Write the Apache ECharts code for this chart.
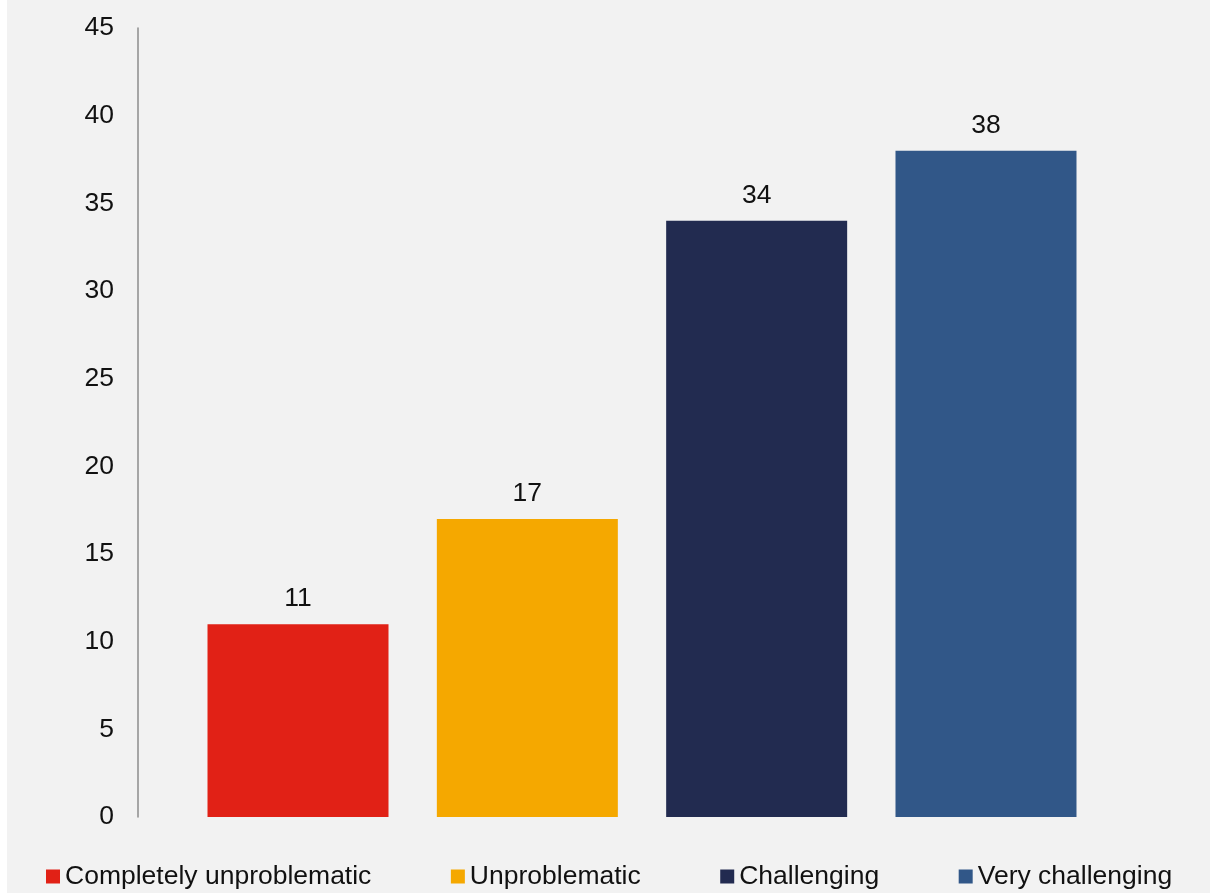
<!DOCTYPE html>
<html>
<head>
<meta charset="utf-8">
<script src="https://cdn.jsdelivr.net/npm/echarts@6/dist/echarts.min.js"></script>
<style>
  html, body { margin: 0; padding: 0; background: #ffffff; }
  #chart { position: absolute; left: 7px; top: 0; width: 1203px; height: 893px; }
</style>
</head>
<body>
<div id="chart"></div>
<script>
// Ratings of the situation, one bar per answer
const categories = [''];
const seriesNames = ['Completely unproblematic', 'Unproblematic', 'Challenging', 'Very challenging'];
const seriesValues = [11, 17, 34, 38];
const seriesColors = ['#E12116', '#F5A800', '#222B50', '#315788'];
const yTicks = { min: 0, max: 45, interval: 5 };

const FONT = '"Liberation Sans", Arial, sans-serif';
const FS = 26.5;

const chart = echarts.init(document.getElementById('chart'), null, { renderer: 'canvas' });

const series = seriesNames.map((name, i) => ({
  name: name,
  type: 'bar',
  data: [seriesValues[i]],
  barWidth: 181,
  barGap: '26.7%',
  itemStyle: { color: seriesColors[i] },
  label: {
    show: true,
    position: 'top',
    distance: 12,
    color: '#111111',
    fontFamily: FONT,
    fontSize: FS
  }
}));

chart.setOption({
  backgroundColor: '#f2f2f2',
  animation: false,
  grid: { left: 131, right: 64, top: 28, height: 789 },
  legend: {
    data: seriesNames,
    left: 34,
    top: 858,
    icon: 'rect',
    itemWidth: 14,
    itemHeight: 14,
    itemGap: 79.5,
    textStyle: { fontFamily: FONT, fontSize: FS, color: '#111111', padding: [0, 0, 0, 0] }
  },
  xAxis: {
    type: 'category',
    data: categories,
    axisLine: { show: false },
    axisTick: { show: false },
    axisLabel: { show: false }
  },
  yAxis: {
    type: 'value',
    min: yTicks.min,
    max: yTicks.max,
    interval: yTicks.interval,
    axisLine: { show: true, lineStyle: { color: '#8c8c8c', width: 1.5 } },
    axisTick: { show: false },
    splitLine: { show: false },
    axisLabel: { margin: 24, color: '#111111', fontFamily: FONT, fontSize: FS }
  },
  series: series
});
</script>
</body>
</html>
